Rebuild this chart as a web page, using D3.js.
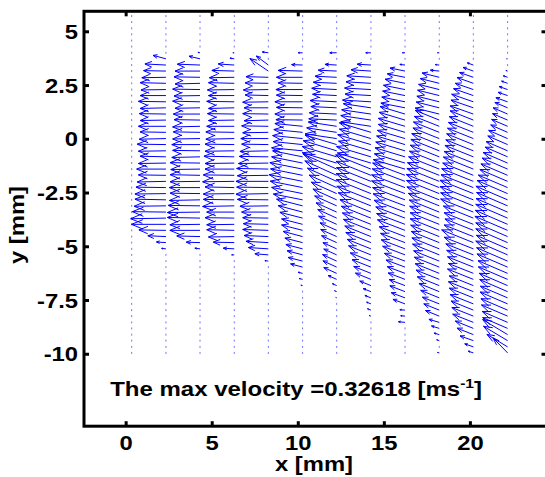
<!DOCTYPE html>
<html>
<head>
<meta charset="utf-8">
<script src="https://cdn.jsdelivr.net/npm/d3@7"></script>
<style>
  body { margin: 0; background: #fff; }
  svg { display: block; }
  text { font-family: "Liberation Sans", Arial, sans-serif; font-weight: bold; fill: #000; }
</style>
</head>
<body>
<svg id="chart" width="545" height="477"></svg>
<script>
// grid: x of the measurement columns, y of the rows [mm]
var colX = [0.35, 2.34, 4.32, 6.31, 8.29, 10.28, 12.26, 14.25, 16.23, 18.22, 20.2, 22.19];
var rowY = [-9.96, -9.68, -9.39, -9.11, -8.82, -8.54, -8.25, -7.97, -7.68, -7.40,
  -7.11, -6.83, -6.54, -6.26, -5.97, -5.69, -5.40, -5.12, -4.83, -4.55,
  -4.26, -3.98, -3.69, -3.41, -3.12, -2.84, -2.55, -2.27, -1.98, -1.70,
  -1.41, -1.13, -0.84, -0.56, -0.27, 0.01, 0.30, 0.58, 0.87, 1.15,
  1.44, 1.72, 2.01, 2.29, 2.58, 2.86, 3.15, 3.43, 3.72, 4.00,
  4.29, 4.57, 4.86, 5.14, 5.43, 5.71];

// first row index that carries a vector in each column (column 0 has none)
var firstRow = [0, 17, 17, 16, 15, 11, 9, 6, 5, 0, 0, 0];

// plotted vector components per column, from firstRow upwards [mm]
var u1 = [-0.25,-0.55,-1.05,-1.57,-2.0,-2.05,-1.95,-1.85,-1.8,-1.8,-1.74,-1.67,-1.6,-1.7,-1.6,-1.5,-1.6,-1.67,-1.55,-1.5,-1.6,-1.5,-1.55,-1.5,-1.6,-1.5,-1.45,-1.5,-1.4,-1.3,-1.22,-0.75];
var v1 = [0.02,0.03,0.04,0.02,0.0,-0.03,0.02,-0.02,0.03,-0.02,0.02,-0.03,0.02,0.0,-0.02,0.03,-0.02,0.02,-0.03,0.02,0.0,-0.02,0.02,-0.03,0.02,0.0,-0.02,0.03,-0.02,0.02,0.05,0.16];
var u2 = [-0.3,-0.8,-1.35,-1.75,-1.75,-1.9,-1.9,-1.85,-1.78,-1.74,-1.78,-1.74,-1.74,-1.7,-1.74,-1.64,-1.59,-1.64,-1.59,-1.55,-1.59,-1.51,-1.55,-1.45,-1.59,-1.51,-1.59,-1.45,-1.51,-1.45,-1.32,-0.64,-0.12];
var v2 = [0.03,0.02,0.03,0.0,-0.02,0.03,-0.02,0.02,-0.03,0.02,0.0,-0.02,0.03,-0.02,0.02,-0.03,0.02,0.0,-0.02,0.02,-0.03,0.02,0.0,-0.02,0.03,-0.02,0.02,-0.03,0.02,0.0,0.04,0.12,0.02];
var u3 = [-0.15,-0.64,-1.22,-1.5,-1.6,-1.6,-1.7,-1.6,-1.84,-1.8,-1.8,-1.7,-1.84,-1.8,-1.7,-1.7,-1.76,-1.7,-1.7,-1.65,-1.65,-1.6,-1.5,-1.56,-1.5,-1.6,-1.5,-1.56,-1.5,-1.45,-1.3,-0.93,-0.25,-0.08];
var v3 = [0.0,0.03,0.02,-0.02,0.03,-0.02,0.02,0.0,-0.03,0.02,-0.02,0.03,-0.02,0.02,0.0,-0.02,0.03,-0.02,0.02,-0.03,0.02,0.0,-0.02,0.02,-0.03,0.02,0.0,-0.02,0.03,-0.02,0.03,0.05,0.03,0.0];
var u4 = [-0.2,-0.78,-1.16,-1.3,-1.41,-1.49,-1.45,-1.49,-1.55,-1.65,-1.8,-1.88,-1.84,-1.88,-1.8,-1.84,-1.74,-1.69,-1.65,-1.55,-1.6,-1.49,-1.55,-1.41,-1.49,-1.41,-1.49,-1.35,-1.45,-1.35,-1.3,-1.07,-0.7,0,-0.35];
var v4 = [0.02,0.05,0.06,0.06,0.05,0.04,0.03,0.02,0.0,-0.02,0.02,-0.03,0.02,0.0,-0.02,0.03,-0.02,0.02,-0.03,0.02,0.0,-0.02,0.02,-0.03,0.02,0.0,-0.02,0.03,-0.02,0.02,0.03,0.58,0.42,0,0.04];
var u5 = [-0.1,-0.2,-0.26,-0.7,-0.84,-0.9,-0.97,-1.03,-1.13,-1.22,-1.22,-1.32,-1.42,-1.51,-1.7,-1.8,-1.88,-1.94,-1.86,-1.9,-1.8,-1.74,-1.8,-1.71,-1.74,-1.67,-1.61,-1.55,-1.61,-1.52,-1.61,-1.52,-1.55,-1.42,-1.52,-1.42,-0.64,0,-0.25];
var v5 = [0.02,0.04,0.05,0.15,0.17,0.19,0.2,0.21,0.24,0.25,0.25,0.27,0.3,0.31,0.27,0.29,0.3,0.31,0.3,0.3,0.29,0.28,0.14,0.14,0.14,0.13,0.13,0.02,0,0.02,0,0.02,0,0.02,0,0.03,0.02,0,0];
var u6 = [-0.05,-0.12,-0.25,-0.5,-0.75,-0.8,-0.82,-0.75,-0.8,-0.88,-0.93,-0.97,-1.05,-1.1,-1.2,-1.28,-1.38,-1.48,-1.6,-1.7,-1.85,-1.95,-2.0,-2.0,-1.94,-1.84,-1.84,-1.74,-1.65,-1.62,-1.59,-1.5,-1.55,-1.4,-1.45,-1.36,-1.26,-1.07,-0.68,0,-0.4];
var v6 = [0.02,0.04,0.09,0.18,0.27,0.29,0.3,0.27,0.29,0.32,0.33,0.35,0.38,0.4,0.43,0.46,0.5,0.53,0.58,0.61,0.67,0.7,0.48,0.48,0.47,0.44,0.22,0.21,0.2,0.06,0.06,0.06,0.06,0.06,0.06,0.05,0.05,0.04,0.03,0,0];
var u7 = [-0.1,-0.2,-0.25,-0.35,-0.45,-0.65,-0.9,-1.0,-1.1,-1.2,-1.3,-1.38,-1.46,-1.52,-1.6,-1.66,-1.72,-1.8,-1.9,-1.98,-2.02,-2.02,-2.0,-2.02,-2.05,-1.95,-2.0,-1.88,-1.93,-1.83,-1.83,-1.75,-1.75,-1.7,-1.6,-1.65,-1.5,-1.53,-1.45,-1.4,-1.15,-0.8,0,-0.3];
var v7 = [0.03,0.06,0.08,0.11,0.14,0.21,0.29,0.32,0.35,0.38,0.42,0.44,0.47,0.49,0.51,0.53,0.55,0.58,0.61,0.63,0.65,0.65,0.64,0.65,0.66,0.47,0.48,0.45,0.46,0.44,0.44,0.21,0.21,0.2,0.19,0.08,0.07,0.07,0.07,0.07,0.06,0.04,0,0];
var u8 = [-0.38,-0.25,-0.3,-0.7,-0.8,-0.88,-0.92,-0.98,-1.03,-1.1,-1.2,-1.3,-1.38,-1.42,-1.5,-1.6,-1.65,-1.7,-1.8,-1.85,-1.88,-1.94,-1.94,-1.9,-1.88,-1.84,-1.78,-1.74,-1.7,-1.65,-1.6,-1.55,-1.55,-1.5,-1.45,-1.4,-1.35,-1.3,-1.25,-1.16,-1.03,-0.87,-0.3,0,-0.15];
var v8 = [0.03,0.02,0.02,0.21,0.24,0.27,0.28,0.3,0.31,0.33,0.36,0.4,0.42,0.43,0.46,0.49,0.5,0.52,0.55,0.56,0.57,0.59,0.59,0.58,0.57,0.44,0.43,0.42,0.41,0.4,0.38,0.37,0.37,0.36,0.35,0.22,0.22,0.21,0.2,0.19,0.16,0.14,0.03,0,0];
var u9 = [-0.1,0,-0.15,-0.3,-0.45,-0.6,-0.8,-0.9,-0.98,-1.08,-1.18,-1.28,-1.35,-1.4,-1.45,-1.49,-1.55,-1.59,-1.63,-1.66,-1.69,-1.69,-1.72,-1.74,-1.8,-1.88,-1.9,-1.92,-1.88,-1.85,-1.78,-1.73,-1.69,-1.65,-1.6,-1.53,-1.5,-1.45,-1.4,-1.4,-1.34,-1.3,-1.26,-1.2,-1.1,-1.0,-0.52,-0.23,0,-0.1];
var v9 = [0.02,0,0.04,0.07,0.11,0.14,0.26,0.29,0.31,0.35,0.38,0.41,0.43,0.45,0.46,0.48,0.5,0.51,0.52,0.53,0.54,0.54,0.55,0.56,0.58,0.6,0.61,0.61,0.6,0.59,0.57,0.55,0.54,0.53,0.51,0.49,0.48,0.46,0.45,0.28,0.27,0.26,0.25,0.24,0.22,0.2,0.04,0.02,0,0];
var u10 = [-0.3,-0.5,-0.77,-0.95,-1.05,-1.2,-1.25,-1.3,-1.35,-1.4,-1.45,-1.4,-1.5,-1.45,-1.5,-1.55,-1.6,-1.7,-1.84,-1.7,-1.65,-1.7,-1.74,-1.9,-1.9,-1.94,-1.94,-1.88,-1.84,-1.78,-1.74,-1.7,-1.65,-1.6,-1.55,-1.5,-1.45,-1.4,-1.35,-1.35,-1.3,-1.26,-1.15,-1.05,-0.95,-0.8,-0.6,-0.35];
var v10 = [0.08,0.14,0.22,0.3,0.34,0.38,0.4,0.42,0.43,0.45,0.46,0.45,0.48,0.46,0.48,0.5,0.51,0.54,0.59,0.54,0.53,0.54,0.56,0.61,0.61,0.62,0.62,0.6,0.59,0.57,0.56,0.54,0.53,0.51,0.5,0.48,0.46,0.45,0.43,0.38,0.36,0.35,0.32,0.29,0.27,0.22,0.17,0.1];
var u11 = [-0.85,-1.2,-1.4,-1.45,-1.45,-1.48,-1.52,-1.55,-1.6,-1.58,-1.62,-1.65,-1.7,-1.72,-1.78,-1.8,-1.85,-1.82,-1.85,-1.85,-1.9,-1.88,-1.85,-1.83,-1.8,-1.84,-1.77,-1.7,-1.61,-1.55,-1.48,-1.42,-1.3,-1.25,-1.15,-1.1,-0.98,-0.93,-0.88,-0.84,-0.74,-0.68,-0.55,-0.49,-0.35,-0.25,-0.1,0,-0.05];
var v11 = [0.7,0.58,0.67,0.7,0.5,0.51,0.52,0.53,0.55,0.54,0.56,0.57,0.58,0.59,0.61,0.62,0.64,0.63,0.64,0.64,0.65,0.65,0.64,0.63,0.62,0.63,0.61,0.58,0.55,0.53,0.51,0.49,0.45,0.43,0.4,0.38,0.34,0.32,0.3,0.29,0.25,0.19,0.15,0.14,0.1,0.07,0.03,0,0];

var xTicks = [0, 5, 10, 15, 20];
var yTicks = [5, 2.5, 0, -2.5, -5, -7.5, -10];
var maxVelocity = '0.32618';

var uCols = [null, u1, u2, u3, u4, u5, u6, u7, u8, u9, u10, u11];
var vCols = [null, v1, v2, v3, v4, v5, v6, v7, v8, v9, v10, v11];

var svg = d3.select('#chart');
var stretch = 1.19; // the reference type is wide

var x = d3.scaleLinear().domain([-2.42, 24.45]).range([84, 546.5]);
var y = d3.scaleLinear().domain([-13.37, 5.93]).range([426.2, 11.3]);

// vectors
var vectors = [];
colX.forEach(function (cx, k) {
  rowY.forEach(function (cy, j) {
    var i = j - firstRow[k];
    var us = uCols[k], vs = vCols[k];
    var u = us && i >= 0 && i < us.length ? us[i] : 0;
    var v = vs && i >= 0 && i < vs.length ? vs[i] : 0;
    vectors.push({ x: cx, y: cy, u: u, v: v });
  });
});

// arrow heads as in quiver: size and width relative to the vector
var alpha = 0.33, beta = 0.33;
function arrowPath(d) {
  var tx = d.x + d.u, ty = d.y + d.v;
  var h1x = tx - alpha * (d.u + beta * d.v), h1y = ty - alpha * (d.v - beta * d.u);
  var h2x = tx - alpha * (d.u - beta * d.v), h2y = ty - alpha * (d.v + beta * d.u);
  return 'M' + x(d.x) + ',' + y(d.y) + 'L' + x(tx) + ',' + y(ty) +
    'M' + x(h1x) + ',' + y(h1y) + 'L' + x(tx) + ',' + y(ty) + 'L' + x(h2x) + ',' + y(h2y);
}

var gq = svg.append('g').attr('id', 'quiver');
gq.selectAll('rect.dot')
  .data(vectors.filter(function (d) { return d.u === 0 && d.v === 0; }))
  .enter().append('rect')
  .attr('class', 'dot')
  .attr('x', function (d) { return x(d.x) - 0.5; })
  .attr('y', function (d) { return y(d.y) - 1; })
  .attr('width', 1)
  .attr('height', 2)
  .attr('fill', '#0000ff')
  .attr('opacity', 0.55);
gq.selectAll('path.arrow')
  .data(vectors.filter(function (d) { return d.u !== 0 || d.v !== 0; }))
  .enter().append('path')
  .attr('class', 'arrow')
  .attr('d', arrowPath)
  .attr('fill', 'none')
  .attr('stroke', '#0000ff')
  .attr('stroke-width', 1);

// axes
var x0 = x.range()[0], x1 = x.range()[1];
var y0 = y.range()[0], y1 = y.range()[1];
var fmt = function (d) { return String(d); };

var gBottom = svg.append('g').attr('transform', 'translate(0,' + y0 + ')')
  .call(d3.axisBottom(x).tickValues(xTicks).tickSize(-5).tickPadding(9.5).tickFormat(fmt));
var gTop = svg.append('g').attr('transform', 'translate(0,' + y1 + ')')
  .call(d3.axisTop(x).tickValues(xTicks).tickSize(-5).tickFormat(''));
var gLeft = svg.append('g').attr('transform', 'translate(' + x0 + ',0)')
  .call(d3.axisLeft(y).tickValues(yTicks).tickSize(-5).tickPadding(5).tickFormat(fmt));
var gRight = svg.append('g').attr('transform', 'translate(' + x1 + ',0)')
  .call(d3.axisRight(y).tickValues(yTicks).tickSize(-5).tickFormat(''));

[gBottom, gTop, gLeft, gRight].forEach(function (g) {
  g.select('.domain').remove();
  g.selectAll('.tick line').attr('stroke', '#000').attr('stroke-width', 3);
  g.selectAll('.tick text')
    .attr('font-family', null)
    .attr('font-size', 20)
    .attr('fill', '#000')
    .attr('transform', 'scale(' + stretch + ',1)');
});
gLeft.selectAll('.tick text').attr('dy', '0.36em');

svg.append('rect')
  .attr('x', x0)
  .attr('y', y1)
  .attr('width', x1 - x0)
  .attr('height', y0 - y1)
  .attr('fill', 'none')
  .attr('stroke', '#000')
  .attr('stroke-width', 3);

// labels
svg.append('text')
  .attr('transform', 'translate(314,470.5) scale(' + stretch + ',1)')
  .attr('text-anchor', 'middle')
  .attr('font-size', 20)
  .text('x [mm]');

svg.append('text')
  .attr('transform', 'translate(24,225) rotate(-90) scale(' + stretch + ',1)')
  .attr('text-anchor', 'middle')
  .attr('font-size', 20)
  .text('y [mm]');

// note
var note = svg.append('text')
  .attr('transform', 'translate(' + x(-0.9) + ',' + y(-11.97) + ') scale(1.2,1)')
  .attr('font-size', 20);
note.append('tspan').text('The max velocity =' + maxVelocity + ' [ms');
note.append('tspan').attr('font-size', 13).attr('dy', -8).text('-1');
note.append('tspan').attr('dy', 8).text(']');
</script>
</body>
</html>
